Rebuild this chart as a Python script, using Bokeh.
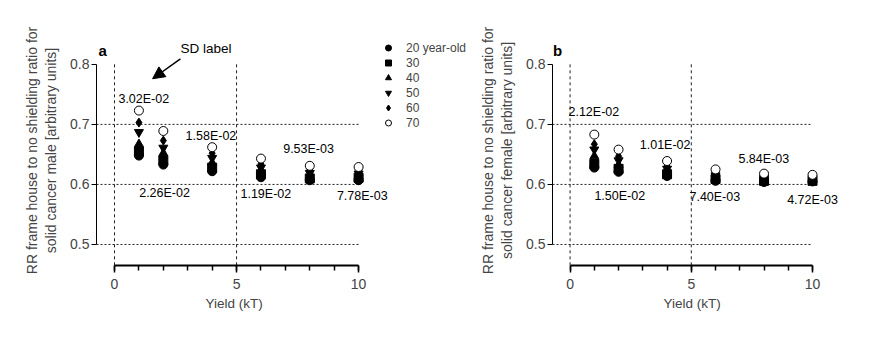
from bokeh.plotting import figure
from bokeh.layouts import row
from bokeh.models import (Range1d, FixedTicker, Arrow, NormalHead, Legend, LegendItem,
                          CustomJSTickFormatter, Title)
from bokeh.core.properties import value
from bokeh.embed import file_html
from bokeh.resources import INLINE

# ---------------- data ----------------
yield_kt = [1, 2, 4, 6, 8, 10]
ages = ["20 year-old", "30", "40", "50", "60", "70"]

male_20 = [0.648, 0.633, 0.622, 0.612, 0.607, 0.607]
male_30 = [0.655, 0.640, 0.628, 0.617, 0.610, 0.611]
male_40 = [0.667, 0.652, 0.636, 0.622, 0.614, 0.614]
male_50 = [0.687, 0.661, 0.644, 0.628, 0.619, 0.618]
male_60 = [0.703, 0.673, 0.652, 0.634, 0.624, 0.622]
male_70 = [0.723, 0.689, 0.662, 0.643, 0.631, 0.629]

female_20 = [0.628, 0.621, 0.614, 0.606, 0.604, 0.605]
female_30 = [0.634, 0.626, 0.617, 0.609, 0.606, 0.606]
female_40 = [0.647, 0.632, 0.621, 0.612, 0.608, 0.608]
female_50 = [0.658, 0.640, 0.626, 0.615, 0.611, 0.610]
female_60 = [0.667, 0.647, 0.630, 0.619, 0.614, 0.612]
female_70 = [0.683, 0.658, 0.639, 0.625, 0.618, 0.616]

male_sd = ["3.02E-02", "2.26E-02", "1.58E-02", "1.19E-02", "9.53E-03", "7.78E-03"]
male_sd_x = [1.2, 2.05, 3.95, 6.2, 7.95, 10.15]
male_sd_y = [0.743, 0.585, 0.680, 0.584, 0.659, 0.581]

female_sd = ["2.12E-02", "1.50E-02", "1.01E-02", "7.40E-03", "5.84E-03", "4.72E-03"]
female_sd_x = [0.98, 2.05, 3.92, 5.97, 7.99, 10.0]
female_sd_y = [0.720, 0.581, 0.666, 0.579, 0.642, 0.574]

y_ticks = [0.5, 0.6, 0.7, 0.8]
x_ticks = [0, 5, 10]
x_minor = list(range(0, 11))
hgrid_y = [0.5, 0.6, 0.7]
vgrid_x = [0, 5]

x_title = "Yield (kT)"

sd_note = "SD label"
sd_note_xy = (3.75, 0.826)
sd_arrow = (2.7, 0.809, 1.56, 0.776)

FONT = "Liberation Sans"

markers = [
    dict(marker="circle", fill_color="black"),
    dict(marker="square", fill_color="black"),
    dict(marker="triangle", fill_color="black"),
    dict(marker="inverted_triangle", fill_color="black"),
    dict(marker="diamond", fill_color="black"),
    dict(marker="circle", fill_color="white"),
]

Y0, Y1 = 0.465, 0.848


def make_panel(width, min_left, x_start, x_end, series, sd_txt, sd_x, sd_y,
               ylabel, letter, letter_x, title_offset, with_legend=False):
    p = figure(width=width, height=323, output_backend="svg", toolbar_location=None,
               x_range=Range1d(x_start, x_end), y_range=Range1d(Y0, Y1),
               min_border_left=min_left, min_border_right=0, min_border_top=35,
               min_border_bottom=58)
    p.outline_line_color = None
    p.grid.visible = False
    p.background_fill_color = "white"
    p.border_fill_color = "white"

    # reference grid lines
    p.segment(x0=[x_start] * len(hgrid_y), y0=hgrid_y, x1=[10] * len(hgrid_y), y1=hgrid_y,
              line_color="#222222", line_width=1, line_dash="2 2")
    p.segment(x0=vgrid_x, y0=[0.8] * len(vgrid_x), x1=vgrid_x, y1=[Y0] * len(vgrid_x),
              line_color="#222222", line_width=1, line_dash="3 3")

    renderers = []
    for vals, m in zip(series, markers):
        r = p.scatter(yield_kt, vals, marker=m["marker"], size=9,
                      fill_color=m["fill_color"], line_color="black", line_width=1)
        renderers.append(r)

    p.text(sd_x, sd_y, text=sd_txt, text_align="center", text_baseline="middle",
           text_font=value(FONT), text_font_size="12.5px", text_color="black")

    p.text([letter_x], [0.823], text=[letter], text_align="center", text_baseline="middle",
           text_font=value(FONT), text_font_style="bold", text_font_size="15px")

    # axes
    xa = p.xaxis[0]
    xa.bounds = (0, 10)
    xa.ticker = FixedTicker(ticks=x_ticks, minor_ticks=x_minor)
    xa.axis_line_width = 2
    xa.major_tick_line_width = 1.5
    xa.minor_tick_line_width = 1.5
    xa.major_tick_in = 0
    xa.major_tick_out = 7
    xa.minor_tick_in = 0
    xa.minor_tick_out = 5
    xa.major_label_standoff = 6
    xa.major_label_text_font = FONT
    xa.major_label_text_font_size = "14px"

    # x-axis title centred under the axis line (not under the whole frame)
    p.add_layout(Title(text=x_title, align="left", offset=title_offset,
                       text_font=FONT, text_font_size="13.5px", text_font_style="normal",
                       standoff=4), "below")

    ya = p.yaxis[0]
    ya.bounds = (0.5, 0.8)
    ya.ticker = FixedTicker(ticks=y_ticks, minor_ticks=[])
    ya.formatter = CustomJSTickFormatter(code="return tick.toFixed(1);")
    ya.major_tick_in = 0
    ya.major_tick_out = 5
    ya.major_label_standoff = 2
    ya.major_label_text_font = FONT
    ya.major_label_text_font_size = "14px"
    ya.axis_label = ylabel
    ya.axis_label_text_font = FONT
    ya.axis_label_text_font_size = "14px"
    ya.axis_label_text_font_style = "normal"
    ya.axis_label_standoff = 8

    if with_legend:
        items = [LegendItem(label=a, renderers=[r]) for a, r in zip(ages, renderers)]
        leg = Legend(items=items, location=(282, 135), padding=0, margin=0,
                     spacing=0, glyph_width=20, glyph_height=15, label_height=15,
                     label_standoff=8, label_text_font=FONT, label_text_font_size="12px",
                     border_line_color=None, background_fill_alpha=0)
        p.add_layout(leg, "center")
    return p


pa = make_panel(476, 96, -0.738, 14.83,
                [male_20, male_30, male_40, male_50, male_60, male_70],
                male_sd, male_sd_x, male_sd_y,
                "RR frame house to no shielding ratio for\nsolid cancer male [arbitrary units]",
                "a", -0.49, 109, with_legend=True)

pa.text([sd_note_xy[0]], [sd_note_xy[1]], text=[sd_note], text_align="center",
        text_baseline="middle", text_font=value(FONT), text_font_size="13.5px")
pa.add_layout(Arrow(x_start=sd_arrow[0], y_start=sd_arrow[1], x_end=sd_arrow[2], y_end=sd_arrow[3],
                    line_width=1.5, line_color="black",
                    end=NormalHead(size=12, fill_color="black", line_color="black")))

pb = make_panel(393, 74, -0.725, 12.35,
                [female_20, female_30, female_40, female_50, female_60, female_70],
                female_sd, female_sd_x, female_sd_y,
                "RR frame house to no shielding ratio for\nsolid cancer female [arbitrary units]",
                "b", -0.52, 111)

layout = row(pa, pb)
open("out.html", "w").write(file_html(layout, INLINE))
